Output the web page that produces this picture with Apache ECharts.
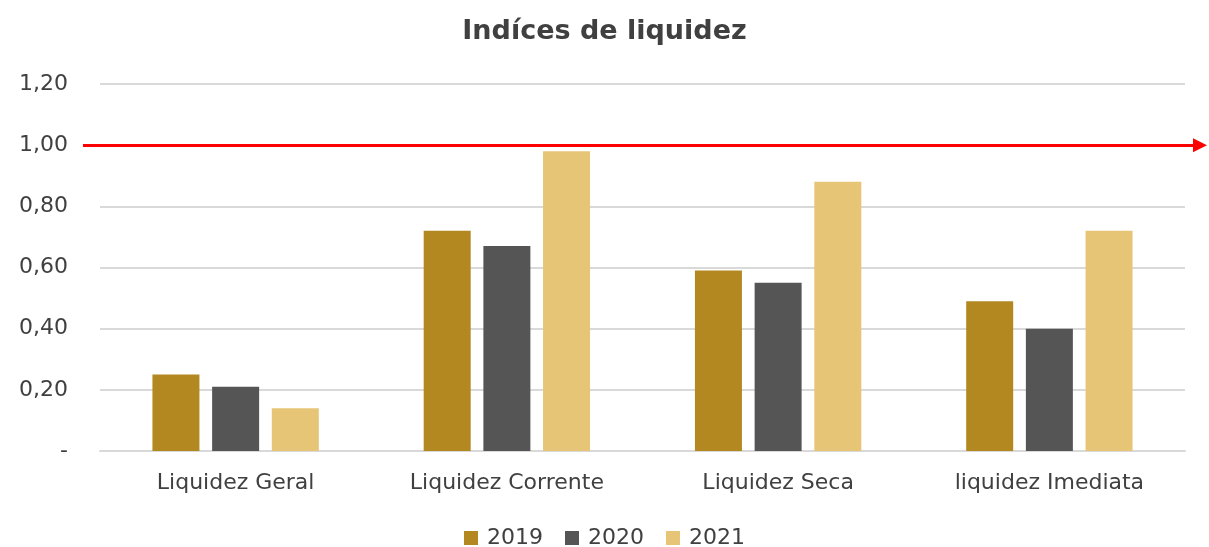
<!DOCTYPE html>
<html>
<head>
<meta charset="utf-8">
<script src="https://cdn.jsdelivr.net/npm/echarts@6/dist/echarts.min.js"></script>
<style>
  html, body { margin: 0; padding: 0; background: #fff; }
  #chart { width: 1209px; height: 547px; }
</style>
</head>
<body>
<div id="chart"></div>
<script>
// Datos de la gráfica
var categories = ['Liquidez Geral', 'Liquidez Corrente', 'Liquidez Seca', 'liquidez Imediata'];
var years = ['2019', '2020', '2021'];
var values2019 = [0.25, 0.72, 0.59, 0.49];
var values2020 = [0.21, 0.67, 0.55, 0.40];
var values2021 = [0.14, 0.98, 0.88, 0.72];
var referenceValue = 1.0;

var colors = ['#B38820', '#555555', '#E6C577'];
var fontFamily = '"DejaVu Sans", sans-serif';

var chartDom = document.getElementById('chart');
var myChart = echarts.init(chartDom);

function barSeries(name, data, color) {
  return {
    name: name,
    type: 'bar',
    data: data,
    barWidth: 47,
    barGap: '27%',
    itemStyle: { color: color }
  };
}

var option = {
  animation: false,
  color: colors,
  title: {
    text: 'Indíces de liquidez',
    left: 'center',
    top: 13,
    textStyle: {
      fontFamily: fontFamily,
      fontSize: 27,
      fontWeight: 'bold',
      color: '#404040'
    }
  },
  legend: {
    top: 522,
    left: 'center',
    itemWidth: 14,
    itemHeight: 14,
    itemGap: 22,
    icon: 'rect',
    textStyle: {
      fontFamily: fontFamily,
      fontSize: 22,
      color: '#404040',
      padding: [0, 0, 0, 4]
    },
    data: years
  },
  grid: {
    left: 100,
    right: 24,
    top: 84,
    bottom: 96
  },
  xAxis: {
    type: 'category',
    data: categories,
    axisTick: { show: false },
    axisLine: { lineStyle: { color: '#d9d9d9', width: 2 } },
    axisLabel: {
      margin: 21,
      fontFamily: fontFamily,
      fontSize: 22,
      color: '#404040'
    }
  },
  yAxis: {
    type: 'value',
    min: 0,
    max: 1.2,
    interval: 0.2,
    axisLine: { show: false },
    axisTick: { show: false },
    splitLine: { lineStyle: { color: '#d9d9d9', width: 2 } },
    axisLabel: {
      margin: 32,
      fontFamily: fontFamily,
      fontSize: 22,
      color: '#404040',
      formatter: function (v) {
        if (v === 0) return '-';
        return v.toFixed(2).replace('.', ',');
      }
    }
  },
  series: [
    barSeries(years[0], values2019, colors[0]),
    barSeries(years[1], values2020, colors[1]),
    barSeries(years[2], values2021, colors[2])
  ]
};

myChart.setOption(option);

// Línea de referencia en 1,00 que sobresale del área de la gráfica
var yRef = myChart.convertToPixel({ yAxisIndex: 0 }, referenceValue);
myChart.setOption({
  series: [{
    markLine: {
      silent: true,
      symbol: ['none', 'triangle'],
      symbolSize: [14, 14],
      label: { show: false },
      lineStyle: { color: '#ff0000', width: 3, type: 'solid' },
      data: [[{ x: 83, y: yRef }, { x: 1200, y: yRef }]]
    }
  }]
});
</script>
</body>
</html>
